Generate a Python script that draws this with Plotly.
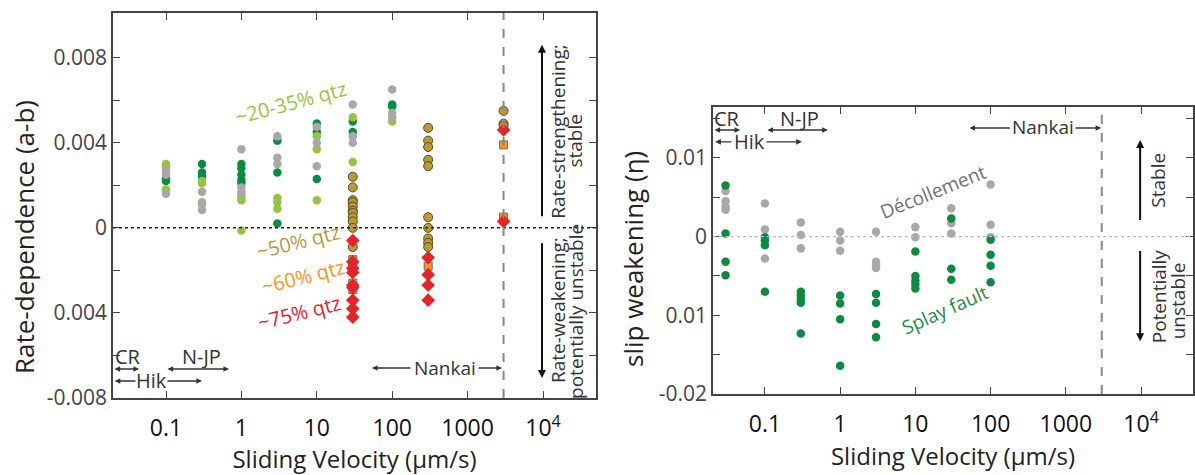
import plotly.graph_objects as go

# ---------------- Left panel: rate-dependence (a-b) ----------------
lg_vel = [0.1, 0.1, 0.1, 0.3, 0.3, 0.3, 1, 1, 1, 3, 3, 3, 10, 10, 10, 30, 30, 100]
lg_ab = [0.0030, 0.0029, 0.0018, 0.0022, 0.0021, 0.0011, 0.00145, 0.0013, -0.00013,
         0.0014, 0.0012, 0.0009, 0.0043, 0.0037, 0.0013, 0.0052, 0.0031, 0.0050]

dg_vel = [0.1, 0.1, 0.3, 0.3, 0.3, 1, 1, 1, 1, 1, 3, 3, 3, 10, 10, 10, 30, 30, 100, 100]
dg_ab = [0.0023, 0.0022, 0.0030, 0.0026, 0.0024, 0.0030, 0.0028, 0.0025, 0.00225, 0.0021,
         0.0041, 0.0026, 0.0002, 0.0049, 0.0045, 0.0023, 0.0050, 0.0045, 0.0058, 0.0057]

gr_vel = [0.1, 0.1, 0.1, 0.1, 0.3, 0.3, 0.3, 1, 1, 1, 1, 3, 3, 3, 10, 10, 10,
          30, 30, 30, 100, 100, 100]
gr_ab = [0.0027, 0.0026, 0.0025, 0.0016, 0.0017, 0.0012, 0.00084, 0.0037, 0.0019, 0.0017,
         0.0016, 0.0043, 0.0033, 0.0030, 0.00475, 0.0040, 0.0029, 0.0058, 0.0043, 0.0040,
         0.0065, 0.0054, 0.0052]

ol_vel = [30, 30, 30, 30, 30, 30, 30, 30, 30, 30, 30,
          300, 300, 300, 300, 300, 300, 300, 300, 300, 300,
          3000, 3000, 3000]
ol_ab = [0.0024, 0.0019, 0.0013, 0.0012, 0.0010, 0.0008, 0.0007, 0.0005, 0.0003, 0.0, -0.0009,
         0.0047, 0.0041, 0.0038, 0.0032, 0.0029, 0.0005, 0.0, -0.0005, -0.0007, -0.0009,
         0.0055, 0.0049, 0.0048]

or_vel = [30, 30, 30, 30, 300, 3000, 3000]
or_ab = [-0.0015, -0.0018, -0.0026, -0.0029, -0.0018, 0.0039, 0.0005]

rd_vel = [30, 30, 30, 30, 30, 30, 30, 30, 30, 300, 300, 300, 300, 3000, 3000]
rd_ab = [-0.0006, -0.0016, -0.0019, -0.0021, -0.0027, -0.0028, -0.0034, -0.0038, -0.0042,
         -0.0014, -0.0022, -0.0027, -0.0034, 0.0046, 0.0003]

# ---------------- Right panel: slip weakening (eta) ----------------
dec_vel = [0.03, 0.03, 0.03, 0.03, 0.1, 0.1, 0.1, 0.3, 0.3, 0.3, 1, 1, 1,
           3, 3, 3, 3, 10, 10, 30, 30, 30, 100, 100, 100]
dec_eta = [0.0058, 0.0045, 0.0038, 0.0034, 0.0042, 0.0009, -0.0028, 0.0018, 0.0002, -0.0015,
           0.0006, -0.0005, -0.0018, 0.0006, -0.0032, -0.0037, -0.0040, 0.0012, -0.0001,
           0.0036, 0.0017, 0.0004, 0.0066, 0.0015, -0.0001]

spl_vel = [0.03, 0.03, 0.03, 0.03, 0.1, 0.1, 0.1, 0.1, 0.3, 0.3, 0.3, 0.3, 0.3,
           1, 1, 1, 1, 3, 3, 3, 3, 10, 10, 10, 10, 10, 30, 30, 30, 100, 100, 100, 100]
spl_eta = [0.0065, 0.0004, -0.0032, -0.0049, -0.0001, -0.0005, -0.0011, -0.0070,
           -0.0070, -0.0075, -0.0080, -0.0084, -0.0123, -0.0075, -0.0085, -0.0105, -0.0164,
           -0.0073, -0.0084, -0.0111, -0.0128, -0.0019, -0.0050, -0.0056, -0.0061, -0.0066,
           0.0023, -0.0041, -0.0055, -0.0004, -0.0023, -0.0037, -0.0058]

x_tickvals = [0.1, 1, 10, 100, 1000, 10000]
x_ticktext = ["0.1", "1", "10", "100", "1000", "10<sup>4</sup>"]
left_yvals = [-0.008, -0.006, -0.004, -0.002, 0, 0.002, 0.004, 0.006, 0.008]
left_ytext = ["-0.008", "", "0.004", "", "0", "", "0.004", "", "0.008"]
right_yvals = [-0.02, -0.015, -0.01, -0.005, 0, 0.005, 0.01, 0.015]
right_ytext = ["-0.02", "", "0.01", "", "0", "", "0.01", ""]
nankai_limit = 3000

DG = "#0b8a43"
LG = "#96c343"
GR = "#a8a8a8"
OL = "#b89a3c"
OR = "#f7941d"
RD = "#e3242b"
FONT = "Open Sans"

fig = go.Figure()

def dots(x, y, color, xa, ya, size=8.5, symbol="circle", line=None):
    fig.add_trace(go.Scatter(
        x=x, y=y, mode="markers", xaxis=xa, yaxis=ya, showlegend=False,
        marker=dict(color=color, size=size, symbol=symbol,
                    line=line if line else dict(width=0))))

dots(dg_vel, dg_ab, DG, "x", "y")
dots(lg_vel, lg_ab, LG, "x", "y")
dots(gr_vel, gr_ab, GR, "x", "y")
dots(ol_vel, ol_ab, OL, "x", "y", size=9, line=dict(color="#5a4818", width=1))
dots(or_vel, or_ab, OR, "x", "y", size=8, symbol="square", line=dict(color="#6b6b6b", width=1))
dots(rd_vel, rd_ab, RD, "x", "y", size=10.5, symbol="diamond")

dots(dec_vel, dec_eta, GR, "x2", "y2")
dots(spl_vel, spl_eta, DG, "x2", "y2")

axis_common = dict(
    type="log", showgrid=False, zeroline=False, showline=True, linecolor="#444",
    linewidth=1.6, mirror="ticks", ticks="inside", ticklen=7, tickwidth=1.4,
    tickcolor="#444", tickvals=x_tickvals, ticktext=x_ticktext,
    tickfont=dict(family=FONT, size=23, color="#111"), ticklabelstandoff=9,
)
yaxis_common = dict(
    showgrid=False, zeroline=False, showline=True, linecolor="#444", linewidth=1.6,
    mirror="ticks", ticks="inside", ticklen=7, tickwidth=1.4, tickcolor="#444",
    tickfont=dict(family=FONT, size=21, color="#444"),
)

L, R, T, B = 113, 1, 13, 77
W, H = 1195, 475
pw, ph = W - L - R, H - T - B

def px_x(p):
    return (p - L) / pw

def px_y(p):
    return (H - B - p) / ph

fig.update_layout(
    width=W, height=H, margin=dict(l=L, r=R, t=T, b=B),
    plot_bgcolor="white", paper_bgcolor="white",
    font=dict(family=FONT, color="#333"),
    xaxis=dict(axis_common, domain=[0, px_x(596)], range=[-1.703, 4.703],
               title=dict(text="Sliding Velocity (µm/s)", standoff=2,
                          font=dict(family=FONT, size=24, color="#222")),
               anchor="y"),
    yaxis=dict(yaxis_common, domain=[0, 1], range=[-0.008, 0.0101],
               tickvals=left_yvals, ticktext=left_ytext, anchor="x"),
    xaxis2=dict(axis_common, domain=[px_x(713), px_x(1193)], range=[-1.69, 4.69],
                title=dict(text="Sliding Velocity (µm/s)", standoff=2,
                           font=dict(family=FONT, size=24, color="#222")),
                anchor="y2"),
    yaxis2=dict(yaxis_common, domain=[px_y(394), px_y(107)], range=[-0.02, 0.01646],
                tickvals=right_yvals, ticktext=right_ytext, anchor="x2"),
)

# reference lines
fig.add_shape(type="line", xref="x domain", yref="y", x0=0, x1=1, y0=0, y1=0,
              line=dict(color="#222", width=1.5, dash="dot"))
fig.add_shape(type="line", xref="x2 domain", yref="y2", x0=0, x1=1, y0=0, y1=0,
              line=dict(color="#bbbbbb", width=1.3, dash="dot"))
fig.add_shape(type="line", xref="x", yref="y domain", x0=nankai_limit, x1=nankai_limit,
              y0=0, y1=1, line=dict(color="#888", width=2, dash="dash"))
fig.add_shape(type="line", xref="x2", yref="y2 domain", x0=nankai_limit, x1=nankai_limit,
              y0=0, y1=1, line=dict(color="#888", width=2, dash="dash"))

ann = []

def text(xr, yr, x, y, s, color="#333", size=19, angle=0):
    ann.append(dict(xref=xr, yref=yr, x=x, y=y, text=s, showarrow=False,
                    textangle=angle, font=dict(family=FONT, size=size, color=color),
                    xanchor="center", yanchor="middle"))

def arrow(xr, yr, x0, y0, x1, y1, side="end", width=1.4, size=1.0, color="#333"):
    ann.append(dict(xref=xr, yref=yr, axref=xr, ayref=yr, x=x1, y=y1, ax=x0, ay=y0,
                    text="", showarrow=True, arrowhead=2, arrowside=side,
                    arrowsize=size, arrowwidth=width, arrowcolor=color,
                    startarrowhead=2, startarrowsize=size))

# y-axis titles (placed as in the original figure, slightly below the axis centre)
text("paper", "paper", px_x(24), px_y(237), "Rate-dependence (a-b)", color="#222",
     size=26, angle=-90)
text("paper", "paper", px_x(633), px_y(259), "slip weakening (η)", color="#222",
     size=26, angle=-90)

# left panel region labels (x in log10 units for annotations)
text("x", "y", -1.504, -0.00607, "CR", size=20)
arrow("x", "y", -1.703, -0.00664, -1.358, -0.00664, side="end+start", size=0.8)
text("x", "y", -1.186, -0.0072, "Hik", size=20)
arrow("x", "y", -1.385, -0.0072, -1.68, -0.0072, size=0.8)
arrow("x", "y", -1.0, -0.0072, -0.523, -0.0072, size=0.8)
text("x", "y", -0.523, -0.00607, "N-JP", size=20)
arrow("x", "y", -1.0, -0.00664, -0.164, -0.00664, side="end+start", size=0.8)
text("x", "y", 2.70, -0.00659, "Nankai", size=19)
arrow("x", "y", 2.263, -0.00659, 1.732, -0.00659, size=0.8)
arrow("x", "y", 3.125, -0.00659, 3.456, -0.00659, size=0.8)

arrow("x", "y", 3.987, 0.00047, 3.987, 0.00861, width=2, size=0.8, color="#111")
arrow("x", "y", 3.987, -0.00066, 3.987, -0.00706, width=2, size=0.8, color="#111")
text("x", "y", 4.2, 0.00452, "Rate-strengthening;", size=19, angle=-90)
text("x", "y", 4.424, 0.0041, "stable", size=19, angle=-90)
text("x", "y", 4.2, -0.00386, "Rate-weakening;", size=19, angle=-90)
text("x", "y", 4.437, -0.00391, "potentially unstable", size=19, angle=-90)

text("x", "y", 0.658, 0.00588, "~20-35% qtz", color=LG, size=20, angle=-15)
text("x", "y", 0.751, -0.00066, "~50% qtz", color=OL, size=20, angle=-14)
text("x", "y", 0.817, -0.00231, "~60% qtz", color=OR, size=20, angle=-14)
text("x", "y", 0.764, -0.0040, "~75% qtz", color=RD, size=20, angle=-14)

# right panel labels
text("x2", "y2", -1.504, 0.01506, "CR", size=20)
arrow("x2", "y2", -1.69, 0.01354, -1.33, 0.01354, side="end+start", size=0.8)
text("x2", "y2", -1.199, 0.01203, "Hik", size=20)
arrow("x2", "y2", -1.424, 0.01203, -1.66, 0.01203, size=0.8)
arrow("x2", "y2", -1.0, 0.01203, -0.509, 0.01203, size=0.8)
text("x2", "y2", -0.536, 0.01506, "N-JP", size=20)
arrow("x2", "y2", -0.987, 0.01354, -0.164, 0.01354, side="end+start", size=0.8)
text("x2", "y2", 2.70, 0.01392, "Nankai", size=19)
arrow("x2", "y2", 2.276, 0.0138, 1.719, 0.0138, size=0.8)
arrow("x2", "y2", 3.11, 0.0138, 3.47, 0.0138, size=0.8)

arrow("x2", "y2", 3.987, 0.0019, 3.987, 0.01228, width=2, size=0.8, color="#111")
arrow("x2", "y2", 3.987, -0.00165, 3.987, -0.01329, width=2, size=0.8, color="#111")
text("x2", "y2", 4.225, 0.0071, "Stable", size=19, angle=-90)
text("x2", "y2", 4.238, -0.00759, "Potentially", size=19, angle=-90)
text("x2", "y2", 4.49, -0.0081, "unstable", size=19, angle=-90)

text("x2", "y2", 1.228, 0.0057, "Décollement", color="#707070", size=19, angle=-22)
text("x2", "y2", 1.387, -0.00937, "Splay fault", color="#1e8c46", size=19, angle=-24)

fig.update_layout(annotations=ann)
fig.write_html(
    "out.html",
    config={"displayModeBar": False},
    post_script="document.body.style.margin='0px';document.body.style.overflow='hidden';",
)
